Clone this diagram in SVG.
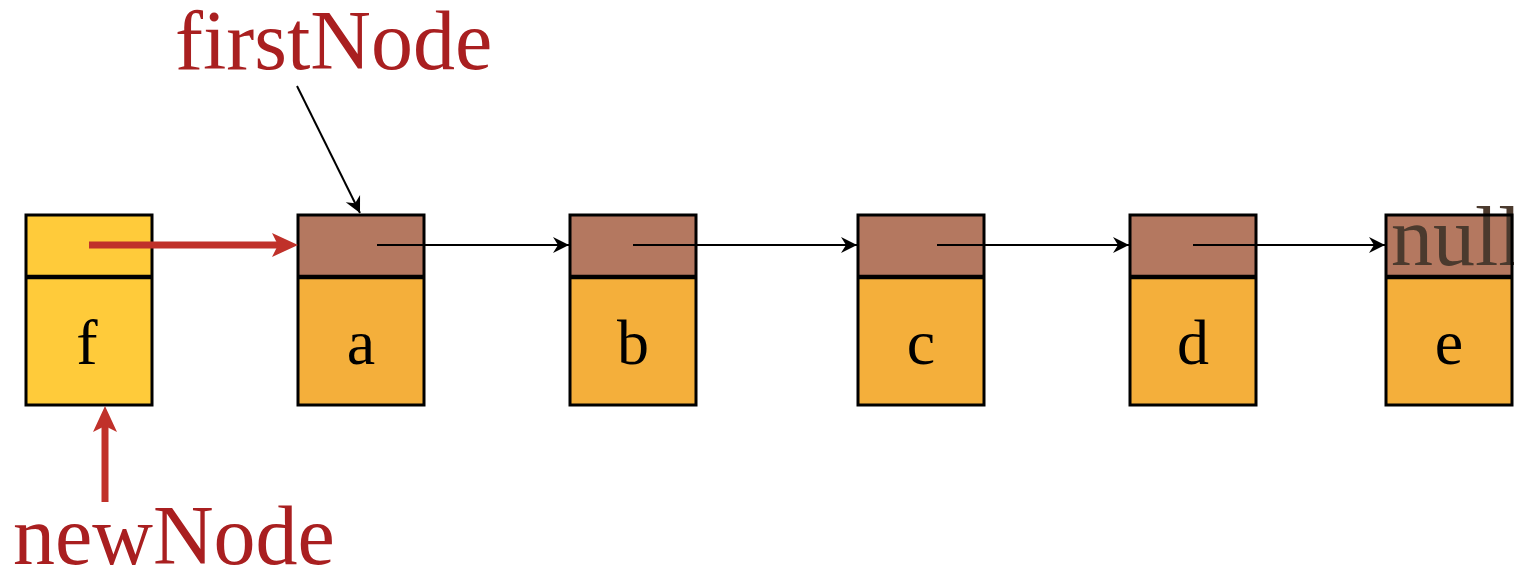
<svg xmlns="http://www.w3.org/2000/svg" width="1514" height="570" viewBox="0 0 1514 570">
<style>
.top{fill:#B47860}
.bot{fill:#F4AF3B}
.ftop,.fbot{fill:#FFCB3A}
.frame{fill:none;stroke:#000;stroke-width:3}
.div{stroke:#000;stroke-width:4.5}
.lbl{font-family:"Liberation Serif",serif;font-size:64px;fill:#000;text-anchor:middle}
.big{font-family:"Liberation Serif",serif;font-size:84px;fill:#A91F20}
.blk{stroke:#000;stroke-width:2;fill:none}
.red{stroke:#C0312A;stroke-width:7;fill:none}
</style>
<defs>
<marker id="ah" markerUnits="userSpaceOnUse" markerWidth="18" markerHeight="18" refX="16" refY="8" orient="auto" overflow="visible"><path d="M0,0 L16,8 L0,16 L5,8 Z" fill="#000"/></marker>
<marker id="rh" markerUnits="userSpaceOnUse" markerWidth="30" markerHeight="26" refX="0" refY="12" orient="auto" overflow="visible"><path d="M-6,0 L20,12 L-6,24 L0,12 Z" fill="#C0312A"/></marker>
</defs>
<g id="node-f"><rect class="fbot" x="26" y="277" width="126" height="128"/><rect class="ftop" x="26" y="215" width="126" height="62"/><rect class="frame" x="26" y="215" width="126" height="190"/><line class="div" x1="26" y1="277" x2="152" y2="277"/><text class="lbl" x="87" y="364">f</text></g>
<g id="node-a"><rect class="bot" x="298" y="277" width="126" height="128"/><rect class="top" x="298" y="215" width="126" height="62"/><rect class="frame" x="298" y="215" width="126" height="190"/><line class="div" x1="298" y1="277" x2="424" y2="277"/><text class="lbl" x="361" y="364">a</text></g>
<g id="node-b"><rect class="bot" x="570" y="277" width="126" height="128"/><rect class="top" x="570" y="215" width="126" height="62"/><rect class="frame" x="570" y="215" width="126" height="190"/><line class="div" x1="570" y1="277" x2="696" y2="277"/><text class="lbl" x="633" y="364">b</text></g>
<g id="node-c"><rect class="bot" x="858" y="277" width="126" height="128"/><rect class="top" x="858" y="215" width="126" height="62"/><rect class="frame" x="858" y="215" width="126" height="190"/><line class="div" x1="858" y1="277" x2="984" y2="277"/><text class="lbl" x="921" y="364">c</text></g>
<g id="node-d"><rect class="bot" x="1130" y="277" width="126" height="128"/><rect class="top" x="1130" y="215" width="126" height="62"/><rect class="frame" x="1130" y="215" width="126" height="190"/><line class="div" x1="1130" y1="277" x2="1256" y2="277"/><text class="lbl" x="1193" y="364">d</text></g>
<g id="node-e"><rect class="bot" x="1386" y="277" width="126" height="128"/><rect class="top" x="1386" y="215" width="126" height="62"/><text x="1391" y="265" style="font-family:'Liberation Serif',serif;font-size:84px;fill:#4B3A2E">null</text><rect class="frame" x="1386" y="215" width="126" height="190"/><line class="div" x1="1386" y1="277" x2="1512" y2="277"/><text class="lbl" x="1449" y="364">e</text></g>
<g id="label-firstNode"><text class="big" x="175" y="69">firstNode</text></g>
<g id="label-newNode"><text class="big" x="13" y="564">newNode</text></g>
<g id="connectors">
<line class="red" x1="89" y1="245" x2="278" y2="245" marker-end="url(#rh)"/>
<line class="red" x1="105" y1="502" x2="105" y2="426" marker-end="url(#rh)"/>
<line class="blk" x1="297" y1="86" x2="360" y2="213" marker-end="url(#ah)"/>
<line class="blk" x1="377" y1="245" x2="569" y2="245" marker-end="url(#ah)"/>
<line class="blk" x1="633" y1="245" x2="857" y2="245" marker-end="url(#ah)"/>
<line class="blk" x1="937" y1="245" x2="1129" y2="245" marker-end="url(#ah)"/>
<line class="blk" x1="1193" y1="245" x2="1385" y2="245" marker-end="url(#ah)"/>
</g>
</svg>
